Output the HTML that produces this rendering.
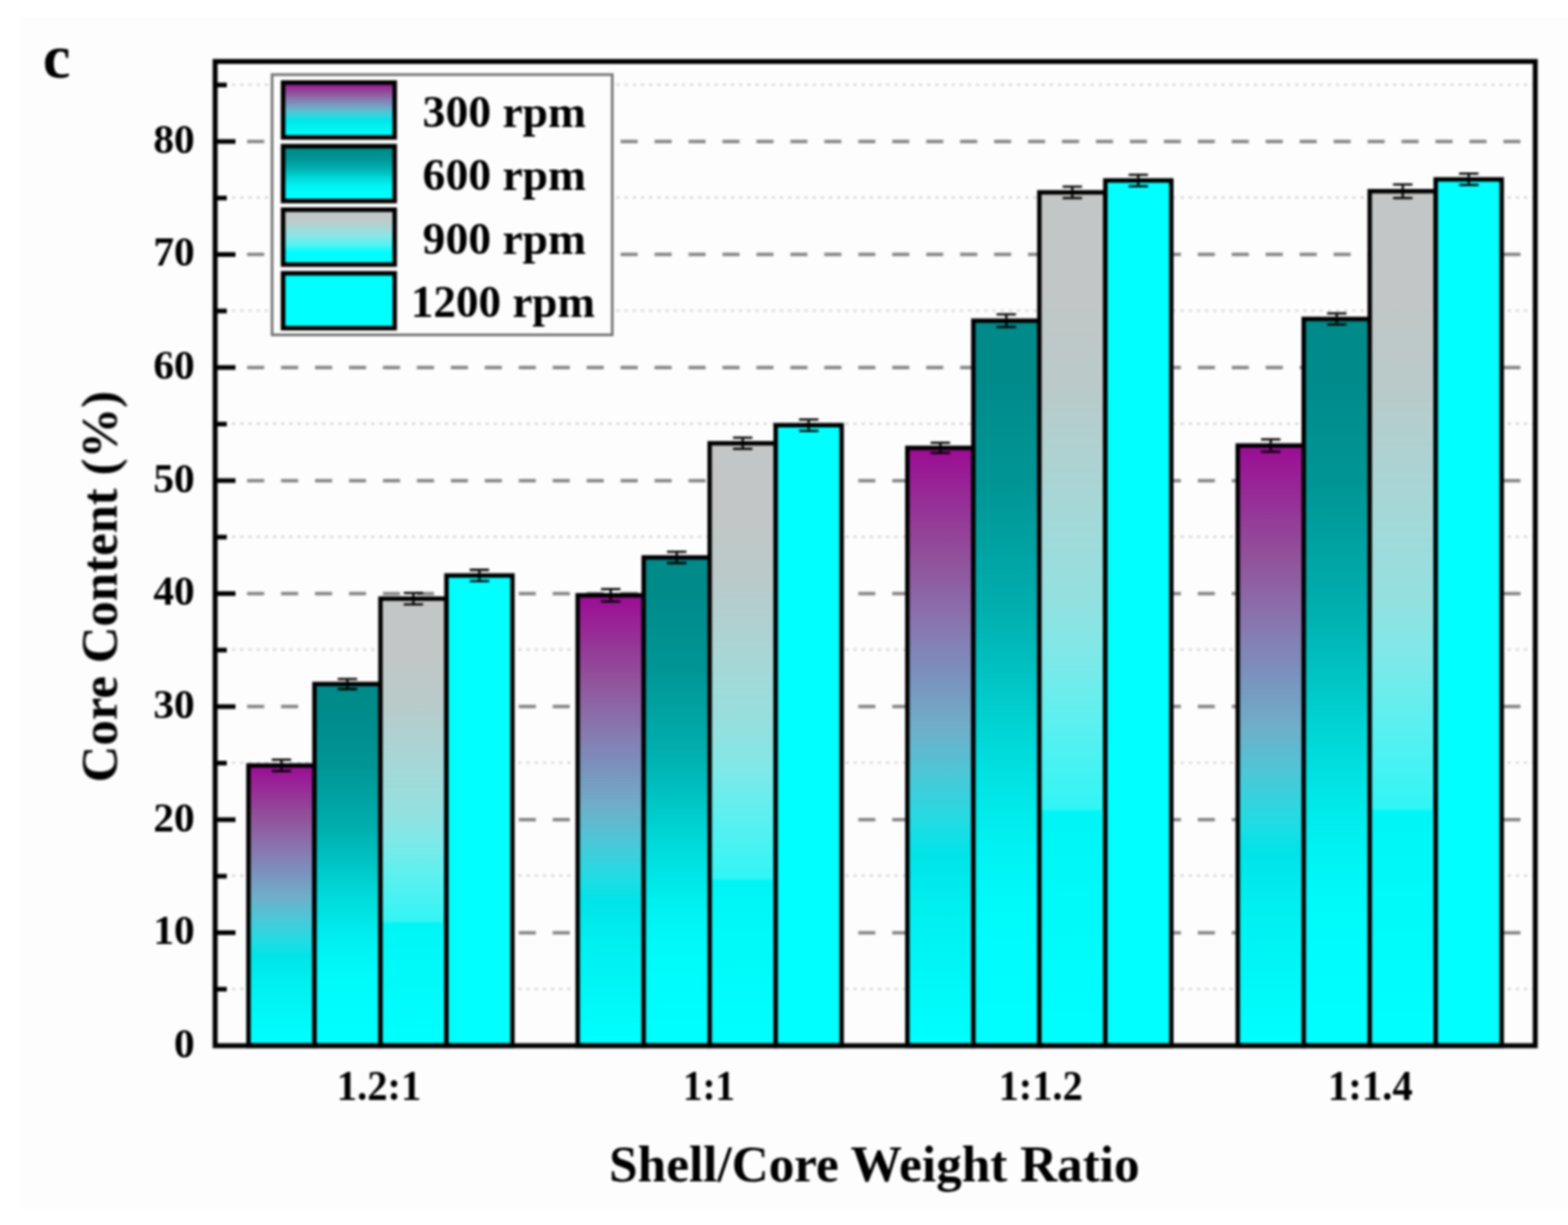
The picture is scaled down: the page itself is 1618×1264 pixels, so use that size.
<!DOCTYPE html>
<html lang="en"><head><meta charset="utf-8"><title>Core Content vs Shell/Core Weight Ratio</title>
<style>
html,body{margin:0;padding:0;background:#fff;}
body{width:1618px;height:1264px;overflow:hidden;}
svg{display:block;}
text{font-family:'Liberation Serif', 'DejaVu Serif', serif;font-weight:bold;fill:#000;}
</style></head><body>
<svg width="1618" height="1264" viewBox="0 0 1618 1264">
<defs>
<linearGradient id="g0" x1="0" y1="0" x2="0" y2="1"><stop offset="0" stop-color="#9c0c94"/><stop offset="0.18" stop-color="#92509a"/><stop offset="0.3" stop-color="#8878b0"/><stop offset="0.386" stop-color="#7a93be"/><stop offset="0.467" stop-color="#6faec8"/><stop offset="0.548" stop-color="#4bc8d8"/><stop offset="0.63" stop-color="#1fdde4"/><stop offset="0.68" stop-color="#00e4e8"/><stop offset="0.775" stop-color="#00f0f0"/><stop offset="1" stop-color="#00ffff"/></linearGradient>
<linearGradient id="g1" x1="0" y1="0" x2="0" y2="1"><stop offset="0" stop-color="#008a8a"/><stop offset="0.1" stop-color="#008c8c"/><stop offset="0.23" stop-color="#009696"/><stop offset="0.4" stop-color="#00afaf"/><stop offset="0.48" stop-color="#00c1c1"/><stop offset="0.565" stop-color="#00d5d5"/><stop offset="0.65" stop-color="#00e6e6"/><stop offset="0.73" stop-color="#00f3f3"/><stop offset="0.82" stop-color="#00fbfb"/><stop offset="1" stop-color="#00ffff"/></linearGradient>
<linearGradient id="g2" x1="0" y1="0" x2="0" y2="1"><stop offset="0" stop-color="#c4c6c6"/><stop offset="0.12" stop-color="#c2c6c6"/><stop offset="0.23" stop-color="#bacaca"/><stop offset="0.354" stop-color="#a8d6d6"/><stop offset="0.476" stop-color="#94e0e0"/><stop offset="0.54" stop-color="#80e8e8"/><stop offset="0.62" stop-color="#5cf0f0"/><stop offset="0.7" stop-color="#3cf4f4"/><stop offset="0.722" stop-color="#32f5f5"/><stop offset="0.726" stop-color="#00f6f6"/><stop offset="1" stop-color="#00ffff"/></linearGradient>
<linearGradient id="g3" x1="0" y1="0" x2="0" y2="1"><stop offset="0" stop-color="#00ffff"/><stop offset="1" stop-color="#00ffff"/></linearGradient>
<linearGradient id="gl2" x1="0" y1="0" x2="0" y2="1"><stop offset="0" stop-color="#c4c7c7"/><stop offset="0.15" stop-color="#c2c8c8"/><stop offset="0.33" stop-color="#aad7d7"/><stop offset="0.5" stop-color="#82e8e8"/><stop offset="0.64" stop-color="#50f5f5"/><stop offset="0.78" stop-color="#00fcfc"/><stop offset="1" stop-color="#00ffff"/></linearGradient>
<filter id="soft" x="-2%" y="-2%" width="104%" height="104%" color-interpolation-filters="sRGB"><feGaussianBlur stdDeviation="0.8"/></filter>
</defs>
<rect x="0" y="0" width="1618" height="1264" fill="#ffffff"/>
<rect x="21" y="17.5" width="1597" height="1230.0" fill="#fdfdfd"/>
<g filter="url(#soft)">
<g fill="none">
<line x1="222.7" x2="1584.2" y1="1020.3" y2="1020.3" stroke="#d3d3d6" stroke-width="2.2" stroke-dasharray="3.2 5.237"/>
<line x1="222.7" x2="1584.2" y1="903.7" y2="903.7" stroke="#d3d3d6" stroke-width="2.2" stroke-dasharray="3.2 5.237"/>
<line x1="222.7" x2="1584.2" y1="787.0" y2="787.0" stroke="#d3d3d6" stroke-width="2.2" stroke-dasharray="3.2 5.237"/>
<line x1="222.7" x2="1584.2" y1="670.4" y2="670.4" stroke="#d3d3d6" stroke-width="2.2" stroke-dasharray="3.2 5.237"/>
<line x1="222.7" x2="1584.2" y1="553.8" y2="553.8" stroke="#d3d3d6" stroke-width="2.2" stroke-dasharray="3.2 5.237"/>
<line x1="222.7" x2="1584.2" y1="437.2" y2="437.2" stroke="#d3d3d6" stroke-width="2.2" stroke-dasharray="3.2 5.237"/>
<line x1="222.7" x2="1584.2" y1="320.5" y2="320.5" stroke="#d3d3d6" stroke-width="2.2" stroke-dasharray="3.2 5.237"/>
<line x1="222.7" x2="1584.2" y1="203.9" y2="203.9" stroke="#d3d3d6" stroke-width="2.2" stroke-dasharray="3.2 5.237"/>
<line x1="222.7" x2="1584.2" y1="87.3" y2="87.3" stroke="#d3d3d6" stroke-width="2.2" stroke-dasharray="3.2 5.237"/>
<line x1="220.0" x2="1584.2" y1="962.4" y2="962.4" stroke="#868484" stroke-width="3.5" stroke-dasharray="17.6 17.435"/>
<line x1="220.0" x2="1584.2" y1="845.8" y2="845.8" stroke="#868484" stroke-width="3.5" stroke-dasharray="17.6 17.435"/>
<line x1="220.0" x2="1584.2" y1="729.1" y2="729.1" stroke="#868484" stroke-width="3.5" stroke-dasharray="17.6 17.435"/>
<line x1="220.0" x2="1584.2" y1="612.5" y2="612.5" stroke="#868484" stroke-width="3.5" stroke-dasharray="17.6 17.435"/>
<line x1="220.0" x2="1584.2" y1="495.9" y2="495.9" stroke="#868484" stroke-width="3.5" stroke-dasharray="17.6 17.435"/>
<line x1="220.0" x2="1584.2" y1="379.2" y2="379.2" stroke="#868484" stroke-width="3.5" stroke-dasharray="17.6 17.435"/>
<line x1="220.0" x2="1584.2" y1="262.6" y2="262.6" stroke="#868484" stroke-width="3.5" stroke-dasharray="17.6 17.435"/>
<line x1="220.0" x2="1584.2" y1="146.0" y2="146.0" stroke="#868484" stroke-width="3.5" stroke-dasharray="17.6 17.435"/>
</g>
<g stroke="#000" stroke-width="4.6" stroke-linejoin="miter">
<rect x="256.4" y="789.8" width="68.1" height="289.2" fill="url(#g0)"/>
<rect x="324.5" y="705.8" width="68.1" height="373.2" fill="url(#g1)"/>
<rect x="392.6" y="617.7" width="68.1" height="461.3" fill="url(#g2)"/>
<rect x="460.7" y="593.8" width="68.1" height="485.2" fill="url(#g3)"/>
<rect x="596.1" y="614.2" width="68.1" height="464.8" fill="url(#g0)"/>
<rect x="664.2" y="575.2" width="68.1" height="503.8" fill="url(#g1)"/>
<rect x="732.3" y="457.4" width="68.1" height="621.6" fill="url(#g2)"/>
<rect x="800.4" y="438.7" width="68.1" height="640.3" fill="url(#g3)"/>
<rect x="936.3" y="462.1" width="68.1" height="616.9" fill="url(#g0)"/>
<rect x="1004.4" y="330.9" width="68.1" height="748.1" fill="url(#g1)"/>
<rect x="1072.5" y="198.5" width="68.1" height="880.5" fill="url(#g2)"/>
<rect x="1140.6" y="186.2" width="68.1" height="892.8" fill="url(#g3)"/>
<rect x="1277.2" y="459.7" width="68.1" height="619.3" fill="url(#g0)"/>
<rect x="1345.3" y="329.1" width="68.1" height="749.9" fill="url(#g1)"/>
<rect x="1413.4" y="197.3" width="68.1" height="881.7" fill="url(#g2)"/>
<rect x="1481.5" y="185.1" width="68.1" height="893.9" fill="url(#g3)"/>
</g>
<g stroke="#000" stroke-width="2.3" fill="none">
<path d="M280.4 783.9H300.4M280.4 795.6H300.4M290.4 783.9V795.6"/>
<path d="M348.5 700.6H368.5M348.5 711.0H368.5M358.5 700.6V711.0"/>
<path d="M416.6 611.9H436.6M416.6 623.6H436.6M426.6 611.9V623.6"/>
<path d="M484.7 588.0H504.7M484.7 599.7H504.7M494.7 588.0V599.7"/>
<path d="M620.2 607.8H640.2M620.2 620.7H640.2M630.2 607.8V620.7"/>
<path d="M688.3 569.3H708.3M688.3 581.0H708.3M698.3 569.3V581.0"/>
<path d="M756.4 451.6H776.4M756.4 463.2H776.4M766.4 451.6V463.2"/>
<path d="M824.5 432.9H844.5M824.5 444.6H844.5M834.5 432.9V444.6"/>
<path d="M960.3 456.8H980.3M960.3 467.3H980.3M970.3 456.8V467.3"/>
<path d="M1028.4 324.4H1048.4M1028.4 337.3H1048.4M1038.4 324.4V337.3"/>
<path d="M1096.5 192.6H1116.5M1096.5 204.3H1116.5M1106.5 192.6V204.3"/>
<path d="M1164.6 180.4H1184.6M1164.6 192.1H1184.6M1174.6 180.4V192.1"/>
<path d="M1301.3 453.3H1321.3M1301.3 466.1H1321.3M1311.3 453.3V466.1"/>
<path d="M1369.4 323.3H1389.4M1369.4 334.9H1389.4M1379.4 323.3V334.9"/>
<path d="M1437.5 190.3H1457.5M1437.5 204.3H1457.5M1447.5 190.3V204.3"/>
<path d="M1505.6 179.2H1525.6M1505.6 190.9H1525.6M1515.6 179.2V190.9"/>
</g>
<rect x="222.0" y="63.4" width="1362.2" height="1015.6" fill="none" stroke="#000" stroke-width="5.1"/>
<g stroke="#000" stroke-width="4.8">
<line x1="222.0" x2="234.0" y1="1020.7" y2="1020.7"/>
<line x1="222.0" x2="243.0" y1="962.4" y2="962.4"/>
<line x1="222.0" x2="234.0" y1="904.1" y2="904.1"/>
<line x1="222.0" x2="243.0" y1="845.8" y2="845.8"/>
<line x1="222.0" x2="234.0" y1="787.4" y2="787.4"/>
<line x1="222.0" x2="243.0" y1="729.1" y2="729.1"/>
<line x1="222.0" x2="234.0" y1="670.8" y2="670.8"/>
<line x1="222.0" x2="243.0" y1="612.5" y2="612.5"/>
<line x1="222.0" x2="234.0" y1="554.2" y2="554.2"/>
<line x1="222.0" x2="243.0" y1="495.9" y2="495.9"/>
<line x1="222.0" x2="234.0" y1="437.6" y2="437.6"/>
<line x1="222.0" x2="243.0" y1="379.2" y2="379.2"/>
<line x1="222.0" x2="234.0" y1="320.9" y2="320.9"/>
<line x1="222.0" x2="243.0" y1="262.6" y2="262.6"/>
<line x1="222.0" x2="234.0" y1="204.3" y2="204.3"/>
<line x1="222.0" x2="243.0" y1="146.0" y2="146.0"/>
<line x1="222.0" x2="234.0" y1="87.7" y2="87.7"/>
</g>
<g font-size="43.2" text-anchor="end">
<text transform="translate(200.9 1090.8) scale(0.99 1)">0</text>
<text transform="translate(200.9 974.2) scale(0.99 1)">10</text>
<text transform="translate(200.9 857.5) scale(0.99 1)">20</text>
<text transform="translate(200.9 740.9) scale(0.99 1)">30</text>
<text transform="translate(200.9 624.3) scale(0.99 1)">40</text>
<text transform="translate(200.9 507.7) scale(0.99 1)">50</text>
<text transform="translate(200.9 391.1) scale(0.99 1)">60</text>
<text transform="translate(200.9 274.4) scale(0.99 1)">70</text>
<text transform="translate(200.9 157.8) scale(0.99 1)">80</text>
</g>
<g font-size="43.5" text-anchor="middle">
<text transform="translate(391.1 1135.1) scale(0.964 1)">1.2:1</text>
<text transform="translate(731.6 1135.1) scale(0.925 1)">1:1</text>
<text transform="translate(1073.9 1135.1) scale(0.958 1)">1:1.2</text>
<text transform="translate(1414.0 1135.1) scale(0.968 1)">1:1.4</text>
</g>
<text transform="translate(902.3 1219.3) scale(1.017 1)" font-size="52" text-anchor="middle">Shell/Core Weight Ratio</text>
<text transform="translate(120.4 605.3) rotate(-90) scale(1.009 1)" font-size="52" text-anchor="middle">Core Content (%)</text>
<text x="44.3" y="79.9" font-size="64">c</text>
<rect x="280.8" y="77" width="351" height="268.5" fill="#fdfdfd" stroke="#707070" stroke-width="2.7"/>
<g stroke="#000" stroke-width="4.7">
<rect x="292.1" y="85.2" width="115.2" height="56.6" fill="url(#g0)"/>
<rect x="292.1" y="150.8" width="115.2" height="56.6" fill="url(#g1)"/>
<rect x="292.1" y="216.4" width="115.2" height="56.6" fill="url(#gl2)"/>
<rect x="292.1" y="282.0" width="115.2" height="56.6" fill="url(#g3)"/>
</g>
<g font-size="46.5" text-anchor="middle">
<text transform="translate(520.4 130.6) scale(1.012 1)">300 rpm</text>
<text transform="translate(520.4 196.1) scale(1.012 1)">600 rpm</text>
<text transform="translate(520.4 261.6) scale(1.012 1)">900 rpm</text>
<text transform="translate(519.0 327.1) scale(1.0 1)">1200 rpm</text>
</g>
</g>
</svg>
</body></html>
